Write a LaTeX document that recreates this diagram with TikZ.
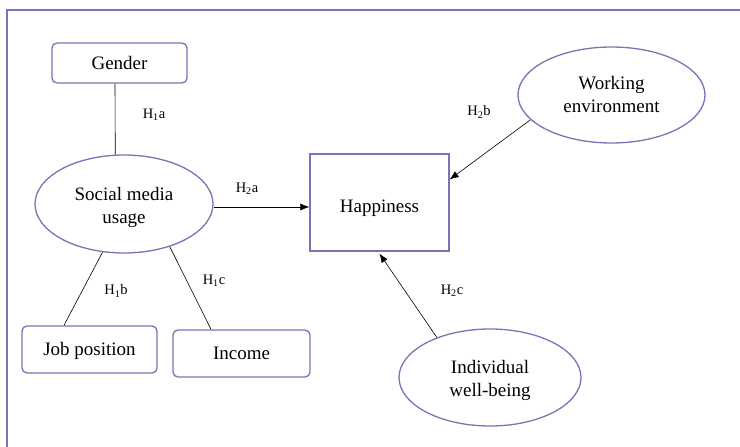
\documentclass[tikz,border=0pt]{standalone}
\usepackage{fontspec}
\setmainfont{Liberation Serif}
\newfontfamily\tms{Liberation Serif}
\usetikzlibrary{shapes.geometric,arrows.meta}
\definecolor{frame}{RGB}{128,112,182}
\tikzset{
  lbl/.style={font=\tms\fontsize{19}{23}\selectfont, align=center, text=black},
  rbox/.style={lbl, draw=frame, line width=1.3pt, rounded corners=5pt, inner sep=0pt},
  sbox/.style={lbl, draw=frame, line width=1.3pt, inner sep=0pt},
  ell/.style={lbl, ellipse, draw=frame, line width=1.3pt, inner sep=0pt},
  hyp/.style={font=\tms\fontsize{14.5}{16}\selectfont, inner sep=0pt},
  conn/.style={draw=black, line width=0.6pt},
  arr/.style={conn, -{Latex[length=9pt,width=7pt]}}
}
\begin{document}
\begin{tikzpicture}[x=1pt,y=-1pt]
\useasboundingbox (0,0) rectangle (740,447);
\draw[frame, line width=1.3pt] (7,460) coordinate (fl) -- (7,10) coordinate (fc) -- (750,10) coordinate (fr);

\node[rbox, minimum width=135pt, minimum height=40pt] (gender) at (119.5,63) {Gender};
\node[ell, minimum width=178pt, minimum height=98pt] (sm) at (124,204) {\rule{0pt}{20pt}Social media\\usage};
\node[sbox, minimum width=139pt, minimum height=97pt] (happy) at (379.5,202.5) {\rule{0pt}{24pt}Happiness};
\node[ell, minimum width=187pt, minimum height=96pt] (work) at (611.5,95) {Working\\environment};
\node[ell, minimum width=182pt, minimum height=97pt] (iwb) at (490,377.5) {\rule{0pt}{19pt}Individual\\well-being};
\node[rbox, minimum width=135pt, minimum height=47pt] (job) at (89.5,349.5) {\rule{0pt}{17pt}Job position};
\node[rbox, minimum width=137pt, minimum height=47pt] (income) at (241.5,353.5) {Income};

\draw[conn] ([xshift=-4.5pt]gender.south) -- (sm.100);
\draw[conn] (sm.246) -- ([xshift=-25.5pt]job.north);
\draw[conn] (sm.317) -- ([xshift=-30.5pt]income.north);
\draw[arr] ([yshift=-3pt]sm.east) -- ([yshift=-3pt]sm.east -| happy.west);
\draw[arr] (work.197) -- ([yshift=23pt]happy.east);
\draw[arr] (iwb.143) -- ([yshift=-2pt]happy.south);

\node[hyp] (h1a) at (154,115) {H\textsubscript{1}a};
\node[hyp] (h2a) at (247,189) {H\textsubscript{2}a};
\node[hyp] (h2b) at (479,112) {H\textsubscript{2}b};
\node[hyp] (h1b) at (116,291) {H\textsubscript{1}b};
\node[hyp] (h1c) at (214,281) {H\textsubscript{1}c};
\node[hyp] (h2c) at (452,291) {H\textsubscript{2}c};
\end{tikzpicture}
\end{document}
